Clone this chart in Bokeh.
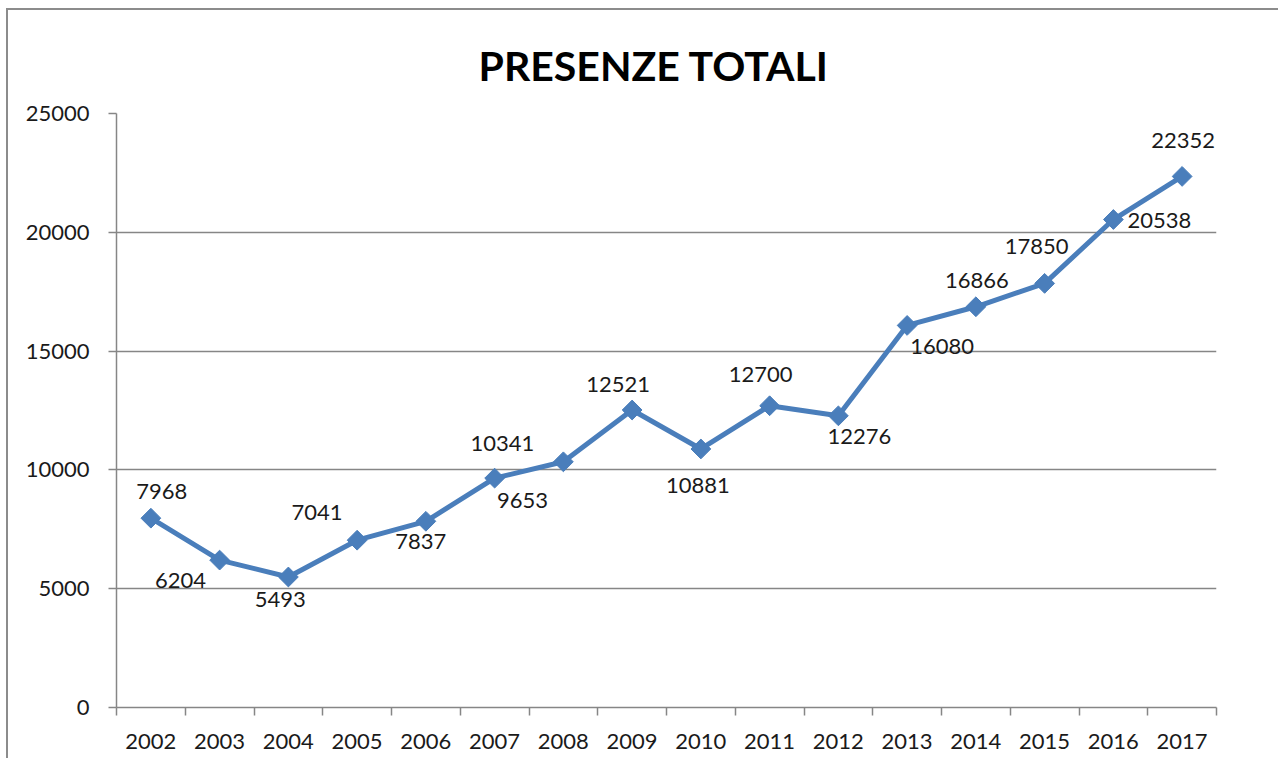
import math
from bokeh.plotting import figure
from bokeh.models import ColumnDataSource, FixedTicker, Range1d, LabelSet
from bokeh.core.properties import value
from bokeh.embed import file_html
from bokeh.resources import INLINE

years = [2002, 2003, 2004, 2005, 2006, 2007, 2008, 2009, 2010, 2011, 2012, 2013, 2014, 2015, 2016, 2017]
presenze = [7968, 6204, 5493, 7041, 7837, 9653, 10341, 12521, 10881, 12700, 12276, 16080, 16866, 17850, 20538, 22352]
# label placement (pixel offsets from each point, like the Excel data labels)
label_dx = [11, -39, -8, -40, -5, 28, -61, -14, -3, -9, 21, 35, 1, -8, 46, 1]
label_dy = [27, -20, -23, 28, -20, -22, 18, 26, -37, 31, -21, -21, 26, 37, -1, 36]
y_ticks = [0, 5000, 10000, 15000, 20000, 25000]

FONT = "Lato"
GRAY = "#868686"
BLUE = "#4a7ebb"

src = ColumnDataSource(dict(x=years, y=presenze, t=[str(v) for v in presenze],
                            dx=label_dx, dy=label_dy))

p = figure(width=1272, height=750, output_backend="svg", toolbar_location=None,
           x_range=Range1d(2001.5, 2017.5), y_range=Range1d(0, 25000),
           min_border_left=108, min_border_right=64, min_border_top=103, min_border_bottom=53,
           title="PRESENZE TOTALI")
p.styles = {"border-left": "2px solid #8c8c8c", "border-top": "2px solid #8c8c8c",
            "margin-top": "8px", "margin-left": "6px"}

p.title.align = "left"
p.title.text_font = FONT
p.title.text_font_style = "bold"
p.title.text_font_size = "41px"
p.title.text_color = "#000000"
p.title.standoff = 48
p.title.offset = 362

p.outline_line_color = None
p.background_fill_color = "white"
p.border_fill_color = "white"

p.xgrid.grid_line_color = None
p.ygrid.grid_line_color = GRAY
p.ygrid.grid_line_width = 1.5
p.ygrid.ticker = FixedTicker(ticks=y_ticks)

p.yaxis.ticker = FixedTicker(ticks=y_ticks)
p.yaxis.axis_line_color = GRAY
p.yaxis.axis_line_width = 1.5
p.yaxis.major_tick_line_color = GRAY
p.yaxis.major_tick_line_width = 1.5
p.yaxis.major_tick_out = 8
p.yaxis.major_tick_in = 0
p.yaxis.minor_tick_line_color = None
p.yaxis.major_label_text_font = FONT
p.yaxis.major_label_text_font_size = "22px"
p.yaxis.major_label_text_color = "#1a1a1a"
p.yaxis.major_label_standoff = 19

boundaries = [y - 0.5 for y in years] + [years[-1] + 0.5]
p.xaxis.ticker = FixedTicker(ticks=years, minor_ticks=boundaries)
p.xaxis.axis_line_color = GRAY
p.xaxis.axis_line_width = 1.5
p.xaxis.major_tick_line_color = None
p.xaxis.major_tick_out = 0
p.xaxis.major_tick_in = 0
p.xaxis.minor_tick_line_color = GRAY
p.xaxis.minor_tick_line_width = 1.5
p.xaxis.minor_tick_out = 8
p.xaxis.minor_tick_in = 0
p.xaxis.major_label_text_font = FONT
p.xaxis.major_label_text_font_size = "22px"
p.xaxis.major_label_text_color = "#1a1a1a"
p.xaxis.major_label_standoff = 18

p.line("x", "y", source=src, line_color=BLUE, line_width=5)
p.scatter("x", "y", source=src, marker="square", size=14, angle=math.pi / 4,
          fill_color=BLUE, line_color=BLUE)

labels = LabelSet(x="x", y="y", text="t", source=src, x_offset="dx", y_offset="dy",
                  text_font=value(FONT), text_font_size="22px", text_color="#1a1a1a",
                  text_align="center", text_baseline="middle")
p.add_layout(labels)

open("out.html", "w").write(file_html(p, INLINE))
